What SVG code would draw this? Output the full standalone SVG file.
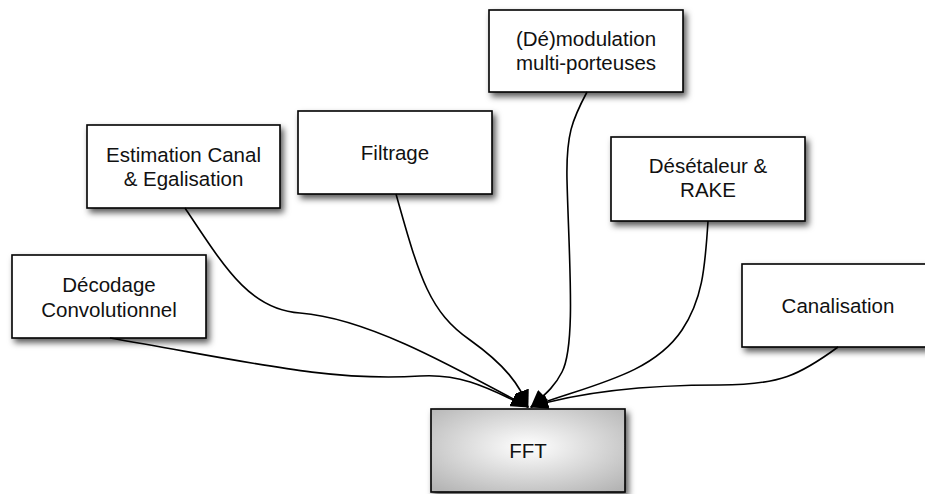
<svg xmlns="http://www.w3.org/2000/svg" width="925" height="494" viewBox="0 0 925 494">
<defs>
<filter id="sh" x="-10%" y="-10%" width="130%" height="140%">
<feDropShadow dx="3" dy="4" stdDeviation="3" flood-color="#000" flood-opacity="0.65"/>
</filter>
<radialGradient id="g" cx="50%" cy="45%" r="70%">
<stop offset="0" stop-color="#ffffff"/>
<stop offset="1" stop-color="#b4b4b4"/>
</radialGradient>
<marker id="ah" viewBox="0 0 18 14" refX="17" refY="7" markerWidth="18" markerHeight="14" markerUnits="userSpaceOnUse" orient="auto">
<path d="M0,0 L18,7 L0,14 Z" fill="#000"/>
</marker>
<style>
.box{fill:#fff;stroke:#000;stroke-width:1.6;filter:url(#sh)}
.t{font-family:"Liberation Sans",Arial,Helvetica,sans-serif;font-size:20.5px;fill:#111;text-anchor:middle}
.c{fill:none;stroke:#000;stroke-width:1.6;marker-end:url(#ah)}
</style>
</defs>
<rect width="925" height="494" fill="#fff"/>
<g id="n-decodage">
<rect class="box" x="12" y="255" width="194" height="83"/>
<text class="t" x="109" y="292">Décodage</text>
<text class="t" x="109" y="317">Convolutionnel</text>
</g>
<g id="n-estimation">
<rect class="box" x="87" y="125" width="193" height="83"/>
<text class="t" x="183.5" y="162">Estimation Canal</text>
<text class="t" x="183.5" y="186">&amp; Egalisation</text>
</g>
<g id="n-filtrage">
<rect class="box" x="298" y="111" width="194" height="83"/>
<text class="t" x="395" y="160">Filtrage</text>
</g>
<g id="n-demod">
<rect class="box" x="489" y="10" width="194" height="82"/>
<text class="t" x="586" y="46">(Dé)modulation</text>
<text class="t" x="586" y="70">multi-porteuses</text>
</g>
<g id="n-desetaleur">
<rect class="box" x="611" y="137" width="194" height="84"/>
<text class="t" x="708" y="173">Désétaleur &amp;</text>
<text class="t" x="708" y="197">RAKE</text>
</g>
<g id="n-canalisation">
<rect class="box" x="742" y="264" width="194" height="83"/>
<text class="t" x="838" y="313">Canalisation</text>
</g>
<g id="n-fft">
<rect class="box" x="431" y="409" width="194" height="83" style="fill:url(#g)"/>
<text class="t" x="528" y="458">FFT</text>
</g>
<g id="connectors">
<path class="c" d="M110,338 C250,362 330,382 420,376 C465,373 495,392 528,407"/>
<path class="c" d="M185,208 C225,268 250,310 300,313 C365,318 445,362 528,407"/>
<path class="c" d="M396,194 C420,280 430,312 470,340 C505,365 520,385 528,407"/>
<path class="c" d="M587,92 C572,120 566,135 567,180 C569,260 576,345 562,372 C553,390 540,398 531,407"/>
<path class="c" d="M708,221 C705,270 702,300 682,330 C652,375 590,385 531,407"/>
<path class="c" d="M838,347 C800,375 780,385 720,385 C640,385 580,392 531,407"/>
</g>
</svg>
